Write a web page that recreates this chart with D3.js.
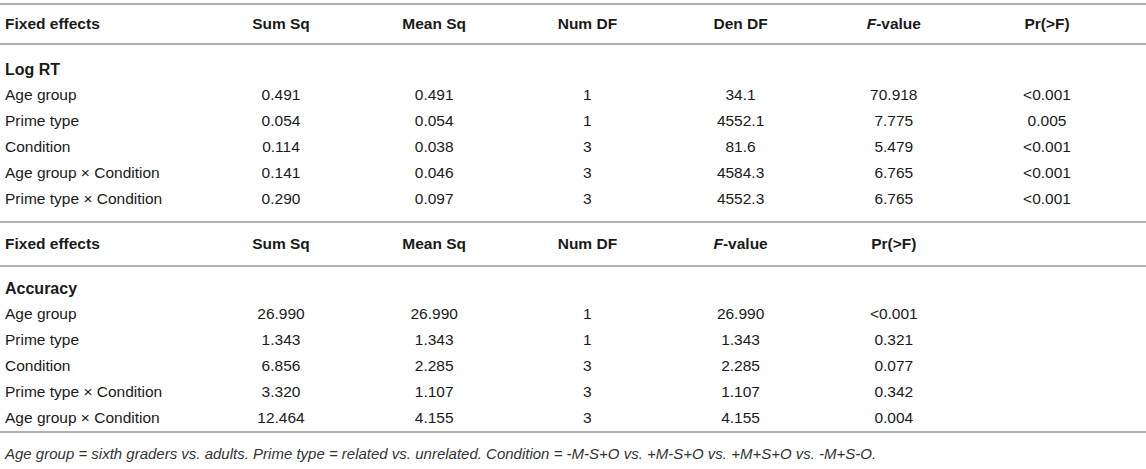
<!DOCTYPE html>
<html><head><meta charset="utf-8">
<script src="https://cdn.jsdelivr.net/npm/d3@7"></script>
<style>html,body{margin:0;padding:0;background:#fff;}svg{display:block;font-family:"Liberation Sans",Arial,Helvetica,sans-serif;}</style>
</head><body><svg id="c" width="1146" height="469"></svg>
<script>
const headers1 = ["Fixed effects","Sum Sq","Mean Sq","Num DF","Den DF","F-value","Pr(>F)"];
const section1 = "Log RT";
const effects1 = ["Age group","Prime type","Condition","Age group × Condition","Prime type × Condition"];
const sumSq1 = ["0.491","0.054","0.114","0.141","0.290"];
const meanSq1 = ["0.491","0.054","0.038","0.046","0.097"];
const numDF1 = ["1","1","3","3","3"];
const denDF1 = ["34.1","4552.1","81.6","4584.3","4552.3"];
const fValue1 = ["70.918","7.775","5.479","6.765","6.765"];
const pValue1 = ["<0.001","0.005","<0.001","<0.001","<0.001"];

const headers2 = ["Fixed effects","Sum Sq","Mean Sq","Num DF","F-value","Pr(>F)"];
const section2 = "Accuracy";
const effects2 = ["Age group","Prime type","Condition","Prime type × Condition","Age group × Condition"];
const sumSq2 = ["26.990","1.343","6.856","3.320","12.464"];
const meanSq2 = ["26.990","1.343","2.285","1.107","4.155"];
const numDF2 = ["1","1","3","3","3"];
const fValue2 = ["26.990","1.343","2.285","1.107","4.155"];
const pValue2 = ["<0.001","0.321","0.077","0.342","0.004"];

const footnote = "Age group = sixth graders vs. adults. Prime type = related vs. unrelated. Condition = -M-S+O vs. +M-S+O vs. +M+S+O vs. -M+S-O.";

const svg = d3.select("#c");
const W = 1146;
const fs = 15.5;
const textColor = "#1a1a1a";
const lineColor = "#b0b0b0";

// column centers (index 1..6)
const colX = d3.scalePoint().domain(d3.range(1,7)).range([281,1047]);

function hline(y){
  svg.append("line").attr("x1",0).attr("x2",W).attr("y1",y).attr("y2",y)
    .attr("stroke",lineColor).attr("stroke-width",2);
}
function header(hdrs,y){
  const g = svg.append("g").attr("font-weight","bold").attr("font-size",fs).attr("fill",textColor);
  hdrs.forEach((h,i)=>{
    const t = g.append("text").attr("y",y);
    if(i===0){ t.attr("x",5).text(h); return; }
    t.attr("x",colX(i)).attr("text-anchor","middle");
    if(h==="F-value"){ t.append("tspan").attr("font-style","italic").text("F"); t.append("tspan").text("-value"); }
    else t.text(h);
  });
}
function body(section, effects, cols, ySec, yRows){
  svg.append("text").attr("x",5).attr("y",ySec).attr("font-weight","bold").attr("font-size",fs+0.5).attr("fill",textColor).text(section);
  const y = d3.scalePoint().domain(d3.range(effects.length)).range(yRows);
  const g = svg.append("g").attr("font-size",fs).attr("fill",textColor);
  effects.forEach((e,r)=>{
    g.append("text").attr("x",5).attr("y",y(r)).text(e);
    cols.forEach((c,ci)=>{
      g.append("text").attr("x",colX(ci+1)).attr("y",y(r)).attr("text-anchor","middle").text(c[r]);
    });
  });
}

hline(4);
header(headers1,28.5);
hline(44);
body(section1,effects1,[sumSq1,meanSq1,numDF1,denDF1,fValue1,pValue1],74.5,[99.5,204]);
hline(222);
header(headers2,248.5);
hline(266);
body(section2,effects2,[sumSq2,meanSq2,numDF2,fValue2,pValue2],293.5,[318.5,423]);
hline(432);
svg.append("text").attr("x",5).attr("y",459).attr("font-size",15).attr("font-style","italic").attr("fill","#333").text(footnote);
</script></body></html>
